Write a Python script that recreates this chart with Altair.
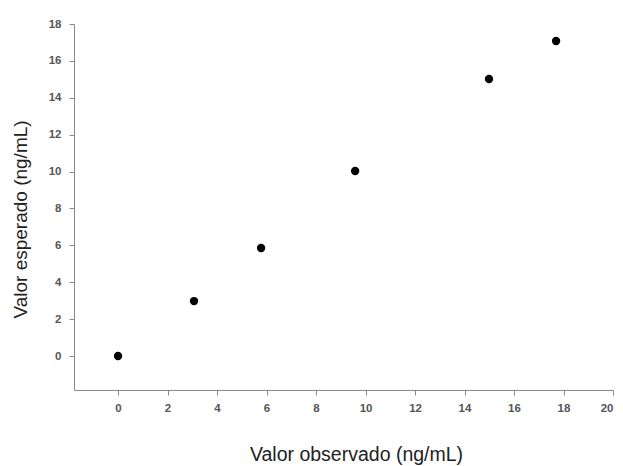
import altair as alt
import pandas as pd

observed = [0.0, 3.07, 5.78, 9.58, 14.99, 17.7]
expected = [0.0, 2.98, 5.86, 10.03, 15.02, 17.08]
x_ticks = [0, 2, 4, 6, 8, 10, 12, 14, 16, 18, 20]
y_ticks = [0, 2, 4, 6, 8, 10, 12, 14, 16, 18]

df = pd.DataFrame({"obs": observed, "esp": expected})

chart = alt.Chart(df).mark_circle(size=70, color="black", opacity=1).encode(
    x=alt.X("obs:Q", scale=alt.Scale(domain=[-1.78, 20], nice=False, zero=False),
            axis=alt.Axis(values=x_ticks, title="Valor observado (ng/mL)", grid=False,
                          titlePadding=32, labelPadding=7, titleFontSize=19.5, titleX=282)),
    y=alt.Y("esp:Q", scale=alt.Scale(domain=[-1.84, 18], nice=False, zero=False),
            axis=alt.Axis(values=y_ticks, title="Valor esperado (ng/mL)", grid=False,
                          titlePadding=18, labelPadding=8, titleFontSize=19, titleY=195)),
).properties(
    width=539, height=366,
    autosize=alt.AutoSizeParams(type="none"),
    padding={"left": 66, "top": 16, "right": 2, "bottom": 76},
).configure_view(stroke=None).configure_axis(
    domainColor="#888888", tickColor="#888888", tickSize=5,
    labelColor="#555555", labelFont="Liberation Sans", labelFontSize=11.5, labelFontWeight="bold",
    titleFont="Liberation Sans", titleFontWeight="normal", titleColor="#222222",
)

chart.save("out.html", embed_options={"renderer": "svg", "actions": False})
